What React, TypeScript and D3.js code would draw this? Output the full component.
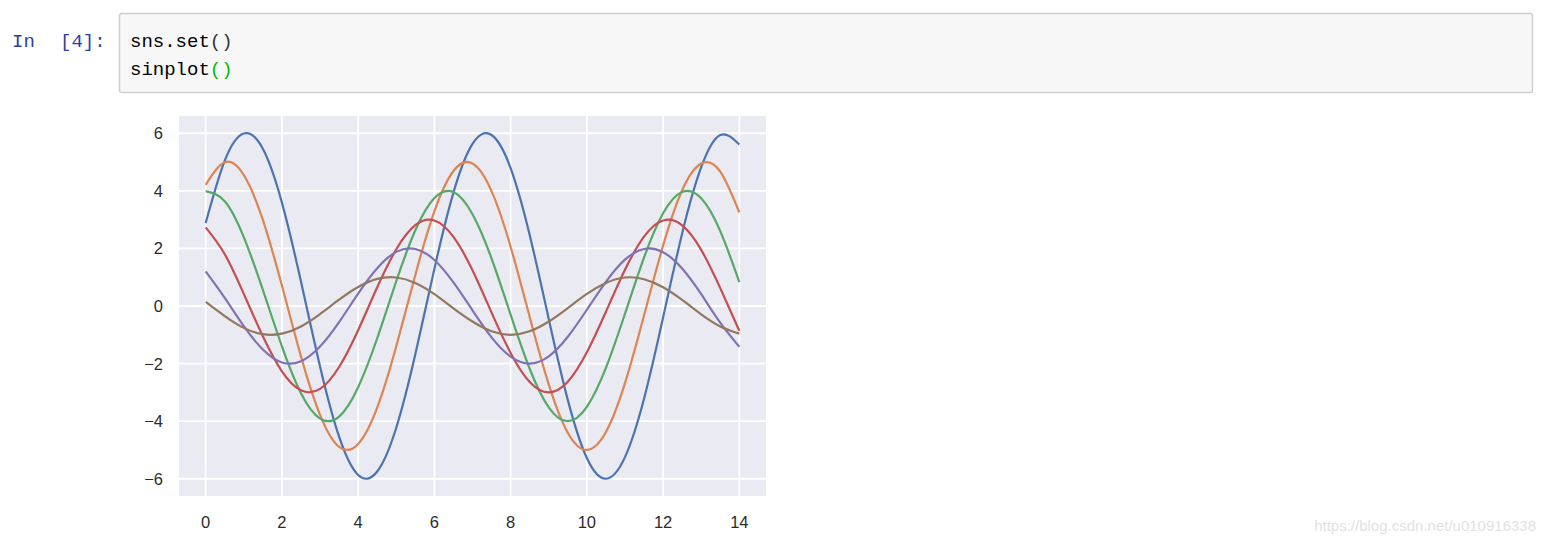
import React from "react";
import * as d3 from "d3";

const xValues = [0, 0.5, 1, 1.5, 2, 2.5, 3, 3.5, 4, 4.5, 5, 5.5, 6, 6.5, 7, 7.5, 8, 8.5, 9, 9.5, 10, 10.5, 11, 11.5, 12, 12.5, 13, 13.5, 14];

const series1 = [2.88, 5.05, 5.99, 5.46, 3.59, 0.85, -2.10, -4.54, -5.87, -5.75, -4.23, -1.68, 1.29, 3.94, 5.63, 5.94, 4.79, 2.47, -0.45, -3.26, -5.28, -6.00, -5.25, -3.22, -0.40, 2.52, 4.82, 5.94, 5.61];
const series2 = [4.21, 4.99, 4.55, 2.99, 0.71, -1.75, -3.78, -4.89, -4.79, -3.53, -1.40, 1.08, 3.29, 4.69, 4.95, 3.99, 2.06, -0.38, -2.72, -4.40, -5.00, -4.38, -2.68, -0.33, 2.10, 4.02, 4.95, 4.67, 3.25];
const series3 = [3.99, 3.64, 2.39, 0.56, -1.40, -3.03, -3.91, -3.84, -2.82, -1.12, 0.86, 2.63, 3.75, 3.96, 3.19, 1.65, -0.30, -2.18, -3.52, -4.00, -3.50, -2.15, -0.27, 1.68, 3.22, 3.96, 3.74, 2.60, 0.83];
const series4 = [2.73, 1.80, 0.42, -1.05, -2.27, -2.93, -2.88, -2.12, -0.84, 0.65, 1.97, 2.81, 2.97, 2.40, 1.24, -0.23, -1.63, -2.64, -3.00, -2.63, -1.61, -0.20, 1.26, 2.41, 2.97, 2.80, 1.95, 0.62, -0.86];
const series5 = [1.20, 0.28, -0.70, -1.51, -1.96, -1.92, -1.41, -0.56, 0.43, 1.31, 1.88, 1.98, 1.60, 0.82, -0.15, -1.09, -1.76, -2.00, -1.75, -1.07, -0.13, 0.84, 1.61, 1.98, 1.87, 1.30, 0.41, -0.58, -1.42];
const series6 = [0.14, -0.35, -0.76, -0.98, -0.96, -0.71, -0.28, 0.22, 0.66, 0.94, 0.99, 0.80, 0.41, -0.08, -0.54, -0.88, -1.00, -0.88, -0.54, -0.07, 0.42, 0.80, 0.99, 0.93, 0.65, 0.21, -0.29, -0.71, -0.96];

const allSeries = [series1, series2, series3, series4, series5, series6];
const colors = ["#4C72B0", "#DD8452", "#55A868", "#C44E52", "#8172B3", "#937860"];

const xTicks = [0, 2, 4, 6, 8, 10, 12, 14];
const yTicks = [-6, -4, -2, 0, 2, 4, 6];

export default function App() {
  const left = 179, right = 766, top = 116, bottom = 496;
  const x = d3.scaleLinear().domain([-0.7, 14.7]).range([left, right]);
  const y = d3.scaleLinear().domain([-6.6, 6.6]).range([bottom, top]);
  const line = d3
    .line<number>()
    .x((_, i) => x(xValues[i]))
    .y((d) => y(d))
    .curve(d3.curveNatural);
  const fmt = (v: number) => (v < 0 ? "\u2212" + Math.abs(v) : String(v));
  const mono = "'Liberation Mono', 'Courier New', monospace";
  const sans = "'Liberation Sans', Arial, sans-serif";

  return (
    <svg width={1546} height={544} style={{ position: "absolute", left: 0, top: 0, background: "#fff" }}>
      {/* notebook cell */}
      <text x={12} y={47} fontFamily={mono} fontSize={19} fill="#303F9F">In</text>
      <text x={60} y={47} fontFamily={mono} fontSize={19} fill="#303F9F">[4]:</text>
      <rect x={119.5} y={13.5} width={1413} height={79} rx={2} fill="#f7f7f7" stroke="#cfcfcf" strokeWidth={1.5} />
      <text x={130} y={47} fontFamily={mono} fontSize={19} fill="#000">
        sns.set<tspan fill="#333">()</tspan>
      </text>
      <text x={130} y={75} fontFamily={mono} fontSize={19} fill="#000">
        sinplot<tspan fill="#0b0">()</tspan>
      </text>

      {/* axes */}
      <rect x={left} y={top} width={right - left} height={bottom - top} fill="#EAEAF2" />
      {xTicks.map((t) => (
        <line key={"gx" + t} x1={x(t)} x2={x(t)} y1={top} y2={bottom} stroke="#fff" strokeWidth={1.8} />
      ))}
      {yTicks.map((t) => (
        <line key={"gy" + t} x1={left} x2={right} y1={y(t)} y2={y(t)} stroke="#fff" strokeWidth={1.8} />
      ))}
      {allSeries.map((s, i) => (
        <path key={"s" + i} d={line(s) || ""} fill="none" stroke={colors[i]} strokeWidth={2.2} />
      ))}
      {xTicks.map((t) => (
        <text key={"tx" + t} x={x(t)} y={528} textAnchor="middle" fontFamily={sans} fontSize={16.5} fill="#2b2b2b">
          {fmt(t)}
        </text>
      ))}
      {yTicks.map((t) => (
        <text key={"ty" + t} x={163} y={y(t) + 6} textAnchor="end" fontFamily={sans} fontSize={16.5} fill="#2b2b2b">
          {fmt(t)}
        </text>
      ))}

      {/* watermark */}
      <text x={1536} y={531} textAnchor="end" fontFamily={sans} fontSize={15} fill="#e2e2e2">
        https://blog.csdn.net/u010916338
      </text>
    </svg>
  );
}
